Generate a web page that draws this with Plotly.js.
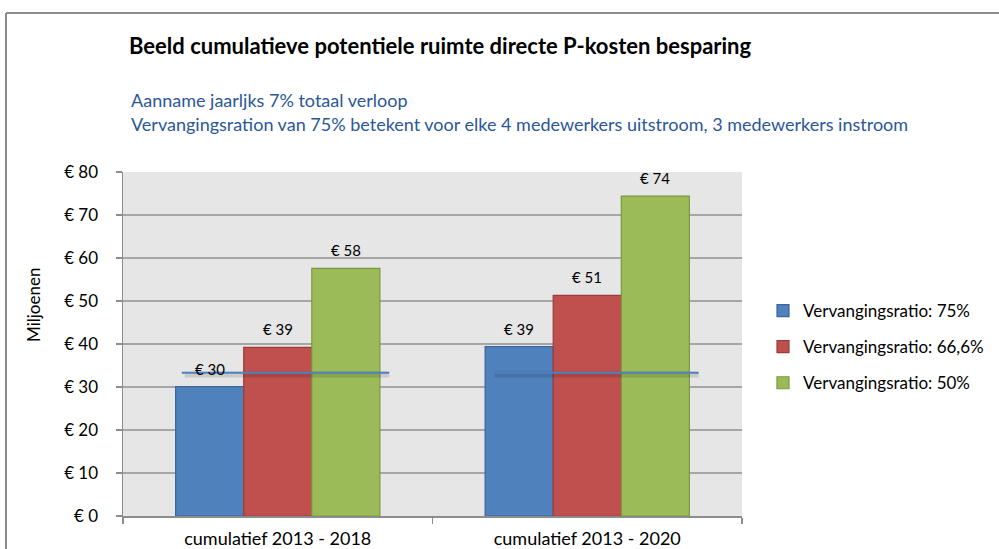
<!DOCTYPE html>
<html>
<head>
<meta charset="utf-8">
<script src="https://cdn.plot.ly/plotly-3.0.1.min.js"></script>
<style>html,body{margin:0;padding:0;background:#fff;}#chart{width:999px;height:549px;}</style>
</head>
<body>
<div id="chart"></div>
<script>
const categories = ['cumulatief 2013 - 2018', 'cumulatief 2013 - 2020'];
const seriesNames = ['Vervangingsratio: 75%', 'Vervangingsratio: 66,6%', 'Vervangingsratio: 50%'];
const ratio75 = [30.1, 39.4];
const ratio666 = [39.2, 51.3];
const ratio50 = [57.6, 74.4];
const thresholdLine = [33.3, 33.3];
const yTickValues = [0, 10, 20, 30, 40, 50, 60, 70, 80];
const yTickLabels = ['€ 0', '€ 10', '€ 20', '€ 30', '€ 40', '€ 50', '€ 60', '€ 70', '€ 80'];

const FONT = 'Lato, "Open Sans", sans-serif';
const fills = ['#4F81BD', '#C0504D', '#9BBB59'];
const borders = ['#3B6696', '#9A3C3A', '#7A9843'];
const allSeries = [ratio75, ratio666, ratio50];

const traces = allSeries.map((vals, i) => ({
  type: 'bar', x: categories, y: vals, name: seriesNames[i],
  legendgroup: 'g' + i,
  marker: {color: fills[i], line: {color: borders[i], width: 1.2}},
  hoverinfo: 'skip'
}));

// threshold line segments per category, on overlay numeric axis
categories.forEach((c, ci) => {
  traces.push({
    type: 'scatter', mode: 'lines', xaxis: 'x2', yaxis: 'y',
    x: [ci - 0.30, ci + 0.36], y: [thresholdLine[ci] - 0.4, thresholdLine[ci] - 0.4],
    line: {color: 'rgba(0,0,0,0.12)', width: 6}, showlegend: false, hoverinfo: 'skip'
  });
  traces.push({
    type: 'scatter', mode: 'lines', xaxis: 'x2', yaxis: 'y',
    x: [ci - 0.31, ci + 0.36], y: [thresholdLine[ci], thresholdLine[ci]],
    line: {color: '#4F81BD', width: 2}, showlegend: false, hoverinfo: 'skip'
  });
});

const annotations = [];
const offsets = [-0.22, 0, 0.22];
allSeries.forEach((vals, si) => {
  vals.forEach((v, ci) => {
    annotations.push({
      xref: 'x2', yref: 'y', x: ci + offsets[si], y: v,
      text: '€ ' + Math.round(v), showarrow: false,
      yanchor: 'middle', yshift: 18,
      font: {family: FONT, size: 15, color: '#000'}
    });
  });
});

annotations.push({
  xref: 'paper', yref: 'paper', x: (129 - 123) / 619, y: (516 - 100) / 344,
  xanchor: 'left', yanchor: 'middle', showarrow: false,
  text: 'Aanname jaarljks 7% totaal verloop',
  font: {family: FONT, size: 18, color: '#2B5797'}
});
annotations.push({
  xref: 'paper', yref: 'paper', x: (129 - 123) / 619, y: (516 - 124) / 344,
  xanchor: 'left', yanchor: 'middle', showarrow: false,
  text: 'Vervangingsration van 75% betekent voor elke 4 medewerkers uitstroom, 3 medewerkers instroom',
  font: {family: FONT, size: 18, color: '#2B5797'}
});
annotations.push({
  xref: 'paper', yref: 'paper', x: (33 - 123) / 619, y: (516 - 305) / 344,
  xanchor: 'center', yanchor: 'middle', showarrow: false, textangle: -90,
  text: 'Miljoenen', font: {family: FONT, size: 17, color: '#000'}
});

const layout = {
  width: 999, height: 549,
  margin: {l: 123, r: 257, t: 172, b: 33, pad: 0, autoexpand: false},
  paper_bgcolor: '#ffffff', plot_bgcolor: '#E6E6E6',
  font: {family: FONT, size: 16, color: '#000'},
  title: {
    text: '<b>Beeld cumulatieve potentiele ruimte directe P-kosten besparing</b>',
    xref: 'container', yref: 'container', x: 129 / 999, xanchor: 'left',
    y: 1 - 46 / 549, yanchor: 'middle',
    font: {family: FONT, size: 22, color: '#000'}
  },
  barmode: 'group', bargap: 0.34, bargroupgap: 0,
  xaxis: {
    type: 'category', showline: true, linecolor: '#8C8C8C', linewidth: 1.5,
    ticks: 'outside', tickson: 'boundaries', ticklen: 6, tickcolor: '#8C8C8C', tickwidth: 1.5,
    showgrid: false, tickfont: {family: FONT, size: 18, color: '#000'}, ticklabelstandoff: 6
  },
  xaxis2: {overlaying: 'x', range: [-0.5, 1.5], visible: false, fixedrange: true},
  yaxis: {
    range: [0, 80], tickvals: yTickValues, ticktext: yTickLabels,
    showline: true, linecolor: '#8C8C8C', linewidth: 1.5,
    ticks: 'outside', ticklen: 6, tickcolor: '#8C8C8C', tickwidth: 1.5,
    showgrid: true, gridcolor: '#A6A6A6', gridwidth: 1.5, zeroline: false,
    tickfont: {family: FONT, size: 17, color: '#000'}, ticklabelstandoff: 14
  },
  legend: {
    x: (763 - 123) / 619, y: (516 - 347) / 344, xanchor: 'left', yanchor: 'middle',
    traceorder: 'grouped', tracegroupgap: 11, bgcolor: 'rgba(0,0,0,0)',
    font: {family: FONT, size: 17, color: '#000'}, itemwidth: 30
  },
  showlegend: true,
  annotations: annotations,
  shapes: [
    {type: 'line', xref: 'paper', yref: 'paper', x0: (6 - 123) / 619, x1: (1010 - 123) / 619,
     y0: (516 - 13) / 344, y1: (516 - 13) / 344, line: {color: '#8C8C8C', width: 2}},
    {type: 'line', xref: 'paper', yref: 'paper', x0: (6 - 123) / 619, x1: (6 - 123) / 619,
     y0: (516 - 13) / 344, y1: (516 - 560) / 344, line: {color: '#8C8C8C', width: 2}}
  ]
};

Plotly.newPlot('chart', traces, layout, {staticPlot: true, displayModeBar: false});
</script>
</body>
</html>
